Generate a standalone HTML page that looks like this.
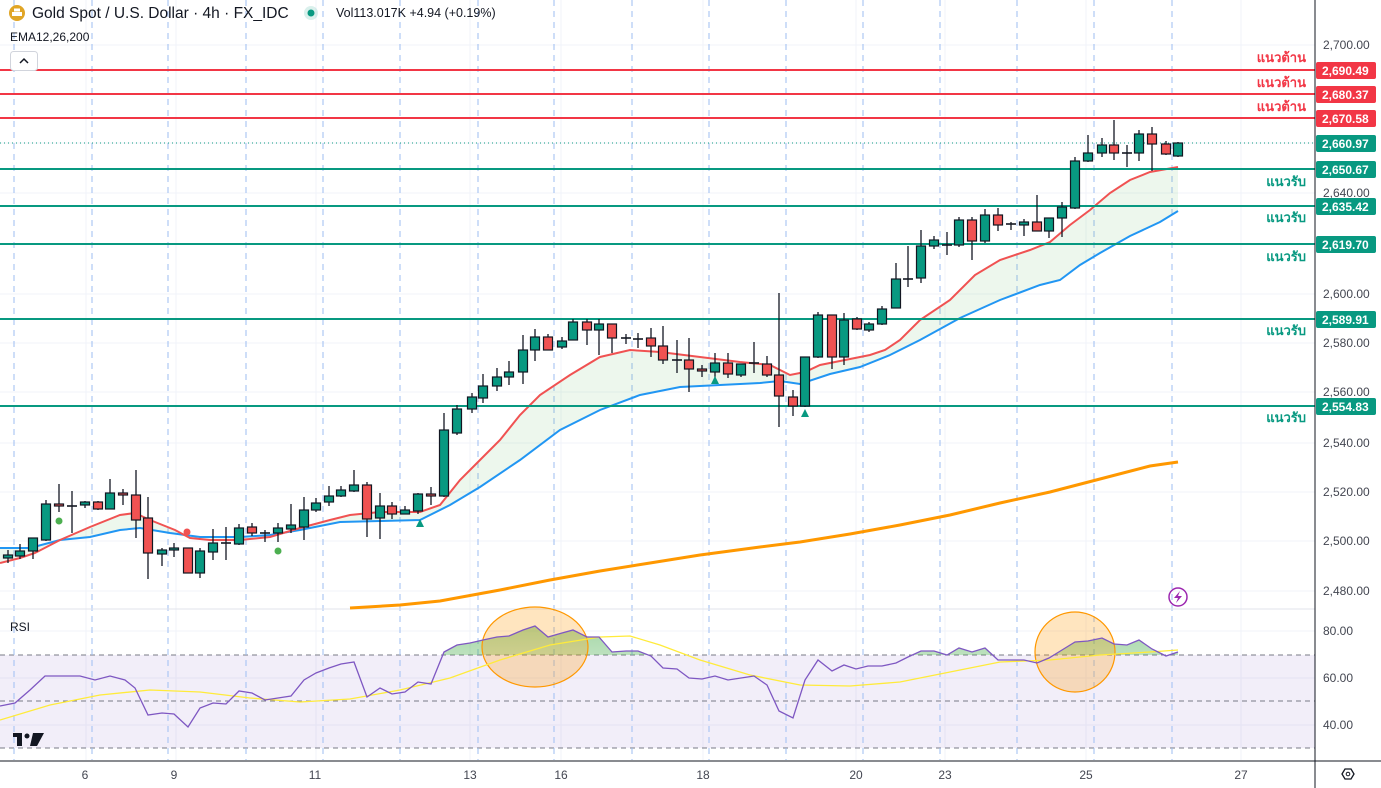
<!DOCTYPE html>
<html><head><meta charset="utf-8"><style>
html,body{margin:0;padding:0;background:#fff;width:1381px;height:788px;overflow:hidden}
svg{display:block;font-family:"Liberation Sans","Noto Sans CJK SC",sans-serif}
</style></head><body>
<svg id="s" width="1381" height="788" xmlns="http://www.w3.org/2000/svg"></svg>
<script>
const S=document.getElementById('s');let h='';
[45,94,143,193,244,294,343,392,443,492,541,591].forEach(y=>h+=`<line x1="0" x2="1315" y1="${y}" y2="${y}" stroke="#f0f3fa"/>`);
[631,678,725].forEach(y=>h+=`<line x1="0" x2="1315" y1="${y}" y2="${y}" stroke="#f0f3fa"/>`);
[86,176,316,470,561,703,856,945,1086,1241].forEach(x=>h+=`<line x1="${x}" x2="${x}" y1="0" y2="760" stroke="#f0f3fa"/>`);
h+=`<rect x="0" y="655" width="1315" height="93" fill="#7e57c2" fill-opacity="0.1"/>`;
[655,701,748].forEach(y=>h+=`<line x1="0" x2="1315" y1="${y}" y2="${y}" stroke="#787b86" stroke-dasharray="5,4"/>`);
[14,92,168,246,323,400,478,554,632,709,786,863,940,1017,1094,1172].forEach(x=>h+=`<line x1="${x}" x2="${x}" y1="0" y2="760" stroke="#9dbdf2" stroke-dasharray="6,5"/>`);
h+=`<line x1="0" x2="1315" y1="609" y2="609" stroke="#e0e3eb"/>`;
const red=[[0,563],[20,558],[35,553],[60,540],[90,527],[120,515],[135,513],[150,520],[175,530],[190,538],[210,540],[240,540],[270,537],[300,528],[330,520],[350,515],[380,512],[420,512],[440,505],[460,480],[480,460],[500,440],[520,415],[540,395],[570,375],[600,357],[630,350],[660,352],[700,357],[740,362],[770,365],[790,375],[805,372],[820,365],[845,360],[870,355],[885,350],[900,340],[920,320],[950,300],[975,275],[1000,260],[1030,250],[1050,242],[1070,225],[1090,210],[1110,193],[1130,180],[1150,172],[1178,167]];
const blue=[[0,548],[30,548],[60,540],[90,537],[120,530],[140,528],[170,533],[200,537],[240,537],[270,535],[300,530],[340,522],[380,521],[420,520],[450,505],[480,487],[520,460],[560,430],[600,410],[640,395],[680,387],[720,385],[760,383],[780,381],[800,384],[830,374],[860,367],[890,355],[920,340],[960,318],[1000,300],[1040,285],[1060,280],[1080,265],[1100,253],[1130,236],[1160,222],[1178,211]];
const orng=[[350,608],[400,605],[440,601],[500,590],[550,580],[600,571],[650,563],[700,555],[760,547],[800,542],[850,534],[900,525],[950,515],[1000,503],[1050,492],[1100,479],[1150,466],[1178,462]];
const P=a=>a.map(p=>p.join(',')).join(' ');
h+=`<polygon points="${P(red)} ${P(blue.slice().reverse())}" fill="#4caf50" fill-opacity="0.1"/>`;
h+=`<polyline points="${P(orng)}" fill="none" stroke="#ff9800" stroke-width="3"/>`;
h+=`<polyline points="${P(blue)}" fill="none" stroke="#2196f3" stroke-width="2"/>`;
h+=`<polyline points="${P(red)}" fill="none" stroke="#f05252" stroke-width="2"/>`;
[70,94,118].forEach(y=>h+=`<line x1="0" x2="1315" y1="${y}" y2="${y}" stroke="#f23645" stroke-width="2"/>`);
[169,206,244,319,406].forEach(y=>h+=`<line x1="0" x2="1315" y1="${y}" y2="${y}" stroke="#089981" stroke-width="2"/>`);
h+=`<line x1="0" x2="1315" y1="143" y2="143" stroke="#089981" stroke-dasharray="1,3"/>`;
const C=[[8,558,555,550,563],[20,556,551,544,559],[33,551,538,538,559],[46,540,504,500,541],[59,504,506,484,512],[72,506,506,491,533],[85,505,502,501,508],[98,502,509,501,510],[110,509,493,479,509],[123,493,495,489,505],[136,495,520,470,538],[148,518,553,497,579],[162,554,550,548,566],[174,550,548,543,557],[188,548,573,548,573],[200,573,551,548,578],[213,552,543,529,560],[226,543,543,527,560],[239,544,528,524,545],[252,527,533,523,536],[265,533,533,530,542],[278,533,528,523,542],[291,529,525,504,533],[304,527,510,497,540],[316,510,503,498,512],[329,502,496,486,506],[341,496,490,486,497],[354,491,485,470,492],[367,485,519,482,537],[380,518,506,493,539],[392,506,514,502,519],[405,514,510,506,514],[418,511,494,493,514],[431,494,496,487,505],[444,496,430,413,497],[457,433,409,405,435],[472,409,397,393,413],[483,398,386,374,403],[497,386,377,368,391],[509,377,372,361,385],[523,372,350,335,384],[535,350,337,329,361],[548,337,350,334,350],[562,347,341,337,349],[573,340,322,319,340],[587,322,330,319,345],[599,330,324,319,355],[612,324,338,324,353],[626,338,338,334,344],[638,339,339,333,348],[651,338,346,328,357],[663,346,360,326,364],[677,360,360,340,373],[689,360,369,338,392],[702,369,371,365,377],[715,372,363,353,378],[728,363,374,353,378],[741,375,364,364,377],[754,363,363,342,373],[767,364,375,356,377],[779,375,396,293,427],[793,397,406,390,416],[805,406,357,357,407],[818,357,315,312,358],[832,315,357,315,369],[844,357,320,313,365],[857,319,329,317,330],[869,330,324,322,332],[882,324,309,306,325],[896,308,279,263,308],[908,279,279,246,287],[921,278,246,230,283],[934,246,240,236,249],[947,245,245,232,255],[959,245,220,217,247],[972,220,241,217,260],[985,241,215,209,243],[998,215,225,208,231],[1011,224,224,222,230],[1024,225,222,219,236],[1037,222,231,195,231],[1049,231,218,218,238],[1062,218,207,202,237],[1075,208,161,157,209],[1088,161,153,135,162],[1102,153,145,138,157],[1114,145,153,120,160],[1127,153,153,145,167],[1139,153,134,130,161],[1152,134,144,127,171],[1166,144,154,141,155],[1178,156,143,142,157]];
C.forEach(([x,o,c,hi,lo])=>{const up=c<o,col=up?'#089981':'#f05252';const t=Math.min(o,c),b=Math.max(o,c);
h+=`<line x1="${x}" x2="${x}" y1="${hi}" y2="${lo}" stroke="#131722" stroke-width="1.3"/>`;
if(b-t<1.5)h+=`<line x1="${x-5}" x2="${x+5}" y1="${t}" y2="${t}" stroke="#131722" stroke-width="1.6"/>`;
else h+=`<rect x="${x-4.5}" y="${t}" width="9" height="${b-t}" fill="${col}" stroke="#131722" stroke-width="1.2"/>`;});
h+=`<circle cx="59" cy="521" r="3.5" fill="#4caf50"/><circle cx="278" cy="551" r="3.5" fill="#4caf50"/><circle cx="187" cy="532" r="3.5" fill="#f05252"/>`;
[[420,523],[715,380],[805,413]].forEach(([x,y])=>h+=`<polygon points="${x-4},${y+4} ${x+4},${y+4} ${x},${y-4}" fill="#089981"/>`);
const rsi=[[0,706],[15,703],[30,690],[45,676],[60,676],[80,676],[95,680],[110,676],[125,680],[135,688],[148,715],[162,713],[174,714],[188,727],[200,708],[213,703],[226,704],[239,691],[252,693],[265,700],[278,698],[291,696],[304,680],[316,673],[329,668],[341,664],[354,662],[367,697],[380,688],[392,694],[405,692],[418,682],[431,684],[444,652],[457,645],[470,643],[483,640],[497,637],[509,636],[523,630],[535,626],[548,637],[562,633],[573,630],[587,637],[599,637],[612,652],[626,651],[638,651],[651,656],[663,668],[677,669],[689,678],[702,679],[715,676],[728,680],[741,678],[754,676],[767,685],[779,711],[793,718],[805,680],[818,660],[832,671],[844,665],[856,669],[868,666],[882,666],[896,663],[908,657],[921,651],[934,651],[947,655],[959,648],[972,652],[985,648],[998,660],[1011,660],[1024,660],[1037,663],[1049,658],[1062,650],[1075,642],[1088,641],[1102,638],[1114,644],[1127,645],[1139,640],[1152,649],[1166,656],[1178,652]];
const yma=[[0,720],[50,705],[100,695],[150,690],[200,692],[250,698],[300,702],[350,699],[400,690],[450,678],[500,660],[550,645],[600,637],[630,636],[660,645],[700,660],[750,675],[800,685],[850,686],[900,682],[950,672],[1000,662],[1050,660],[1100,655],[1150,652],[1178,650]];
h+=`<defs><clipPath id="ob"><rect x="0" y="609" width="1315" height="46"/></clipPath><linearGradient id="gg" x1="0" y1="0" x2="0" y2="1"><stop offset="0" stop-color="#4caf50" stop-opacity="0.5"/><stop offset="1" stop-color="#4caf50" stop-opacity="0.05"/></linearGradient></defs>`;
h+=`<polygon clip-path="url(#ob)" points="0,655 ${P(rsi)} 1178,655" fill="url(#gg)"/>`;
h+=`<ellipse cx="535" cy="647" rx="53" ry="40" fill="#ff9800" fill-opacity="0.25" stroke="#ff9800" stroke-width="1.2"/>`;
h+=`<ellipse cx="1075" cy="652" rx="40" ry="40" fill="#ff9800" fill-opacity="0.25" stroke="#ff9800" stroke-width="1.2"/>`;
h+=`<polyline points="${P(yma)}" fill="none" stroke="#ffeb3b" stroke-width="1.3"/>`;
h+=`<polyline points="${P(rsi)}" fill="none" stroke="#7e57c2" stroke-width="1.3"/>`;
h+=`<line x1="1315" x2="1315" y1="0" y2="788" stroke="#131722"/><line x1="0" x2="1381" y1="761" y2="761" stroke="#131722"/>`;
[[45,'2,700.00'],[193,'2,640.00'],[294,'2,600.00'],[343,'2,580.00'],[392,'2,560.00'],[443,'2,540.00'],[492,'2,520.00'],[541,'2,500.00'],[591,'2,480.00'],[631,'80.00'],[678,'60.00'],[725,'40.00']].forEach(([y,t])=>h+=`<text x="1323" y="${y+4}" font-size="12" fill="#434651">${t}</text>`);
[[70,'2,690.49','#f23645'],[94,'2,680.37','#f23645'],[118,'2,670.58','#f23645'],[143,'2,660.97','#089981'],[169,'2,650.67','#089981'],[206,'2,635.42','#089981'],[244,'2,619.70','#089981'],[319,'2,589.91','#089981'],[406,'2,554.83','#089981']].forEach(([y,t,c])=>h+=`<rect x="1316" y="${y-8}" width="60" height="17" rx="2" fill="${c}"/><text x="1322" y="${y+5}" font-size="12" font-weight="bold" fill="#fff">${t}</text>`);
[57,82,106].forEach(y=>h+=`<text x="1306" y="${y+5}" text-anchor="end" font-size="13" font-weight="bold" fill="#f23645">แนวต้าน</text>`);
[181,217,256,330,417].forEach(y=>h+=`<text x="1306" y="${y+5}" text-anchor="end" font-size="13" font-weight="bold" fill="#089981">แนวรับ</text>`);
[[85,'6'],[174,'9'],[315,'11'],[470,'13'],[561,'16'],[703,'18'],[856,'20'],[945,'23'],[1086,'25'],[1241,'27']].forEach(([x,t])=>h+=`<text x="${x}" y="779" text-anchor="middle" font-size="12" fill="#434651">${t}</text>`);
h+=`<circle cx="17" cy="13" r="8" fill="#e0a526"/><rect x="12" y="12" width="10" height="4" fill="#fff"/><rect x="14" y="8.5" width="6" height="3" fill="#fff"/>`;
h+=`<text x="32" y="18" font-size="15.5" fill="#131722">Gold Spot / U.S. Dollar · 4h · FX_IDC</text>`;
h+=`<circle cx="311" cy="13" r="7" fill="#089981" fill-opacity="0.15"/><circle cx="311" cy="13" r="3.5" fill="#089981"/>`;
h+=`<text x="336" y="17" font-size="12.5" fill="#131722">Vol113.017K  +4.94 (+0.19%)</text>`;
h+=`<text x="10" y="41" font-size="12" fill="#131722">EMA12,26,200</text>`;
h+=`<rect x="10.5" y="51.5" width="27" height="19" rx="3" fill="#fff" stroke="#d1d4dc"/><polyline points="20,63 24,59 28,63" fill="none" stroke="#131722" stroke-width="1.5"/>`;
h+=`<text x="10" y="631" font-size="12" fill="#131722">RSI</text>`;
h+=`<rect x="13" y="733" width="9" height="4" fill="#131722"/><rect x="17" y="733" width="5" height="13" fill="#131722"/><circle cx="27" cy="736" r="2.5" fill="#131722"/><polygon points="33,733 44,733 37,746 30,746" fill="#131722"/>`;
h+=`<circle cx="1178" cy="597" r="9" fill="none" stroke="#9c27b0" stroke-width="1.5"/><polygon points="1180,591 1174,598 1178,598 1176,603 1182,596 1178,596" fill="#9c27b0"/>`;
h+=`<polygon points="1342,774 1345,769 1351,769 1354,774 1351,779 1345,779" fill="none" stroke="#131722" stroke-width="1.3"/><circle cx="1348" cy="774" r="1.8" fill="none" stroke="#131722"/>`;
S.innerHTML=h;
</script>
</body></html>
